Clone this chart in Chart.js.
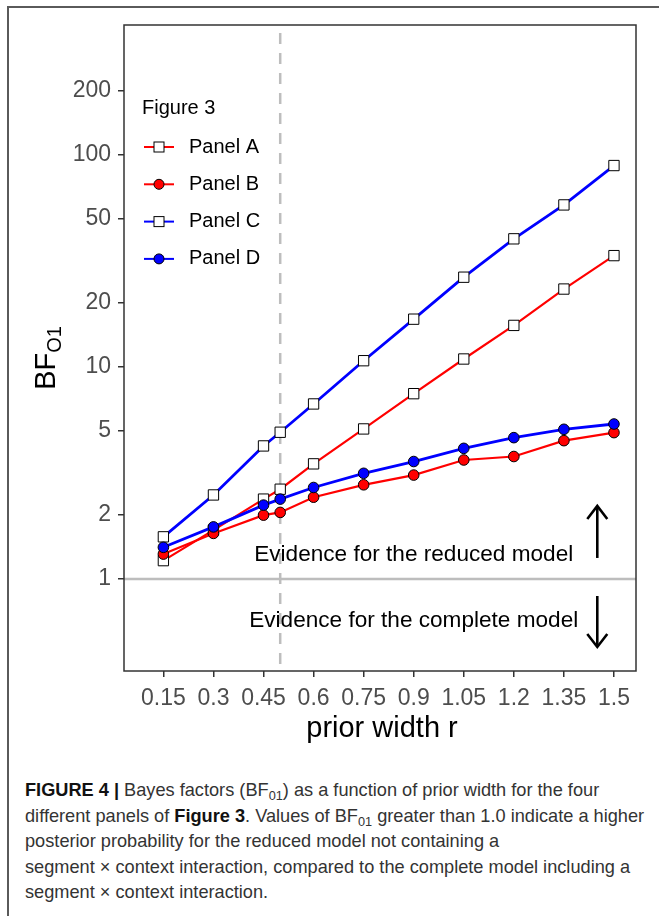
<!DOCTYPE html>
<html>
<head>
<meta charset="utf-8">
<script src="https://cdn.jsdelivr.net/npm/chart.js@4.4.1/dist/chart.umd.min.js"></script>
<style>
  body { margin: 0; background: #fff; }
  #wrap { position: relative; width: 659px; height: 916px; overflow: hidden; }
  #frame { position: absolute; left: 7px; top: 6px; width: 700px; height: 1000px;
           border-left: 2px solid #5a5a5a; border-top: 2px solid #5a5a5a; }
  #chart { position: absolute; left: 0; top: 0; }
  #caption { position: absolute; left: 25px; top: 778px; color: #333;
             font-family: "Liberation Sans", Arial, sans-serif;
             font-size: 18.2px; line-height: 25.5px; white-space: nowrap; }
  #caption b { color: #111; }
  #caption sub { font-size: 0.7em; vertical-align: -0.3em; line-height: 0; }
</style>
</head>
<body>
<div id="wrap">
  <div id="frame"></div>
  <canvas id="chart" width="659" height="760"></canvas>
  <div id="caption"><b>FIGURE 4 |</b> Bayes factors (BF<sub>01</sub>) as a function of prior width for the four<br>different panels of <b>Figure 3</b>. Values of BF<sub>01</sub> greater than 1.0 indicate a higher<br>posterior probability for the reduced model not containing a<br>segment × context interaction, compared to the complete model including a<br>segment × context interaction.</div>
</div>
<script>
  // Data
  const priorWidths = [0.15, 0.3, 0.45, 0.5, 0.6, 0.75, 0.9, 1.05, 1.2, 1.35, 1.5];
  const panelA = [1.22, 1.70, 2.38, 2.65, 3.49, 5.10, 7.48, 10.9, 15.7, 23.3, 33.5];
  const panelB = [1.31, 1.64, 2.00, 2.06, 2.43, 2.78, 3.09, 3.64, 3.78, 4.49, 4.90];
  const panelC = [1.58, 2.49, 4.24, 4.92, 6.69, 10.7, 16.8, 26.5, 40.2, 58.1, 89.1];
  const panelD = [1.41, 1.76, 2.23, 2.38, 2.70, 3.15, 3.58, 4.13, 4.64, 5.08, 5.38];

  const xTicks = [0.15, 0.3, 0.45, 0.6, 0.75, 0.9, 1.05, 1.2, 1.35, 1.5];
  const xTickLabels = ['0.15', '0.3', '0.45', '0.6', '0.75', '0.9', '1.05', '1.2', '1.35', '1.5'];
  const yTicks = [1, 2, 5, 10, 20, 50, 100, 200];

  const xMin = 0.032, xMax = 1.566;
  const yMin = 0.368, yMax = 410;
  const markedWidth = 0.5;   // dashed line
  const evidenceLine = 1;    // BF = 1

  const RED = '#ff0000', BLUE = '#0000ff';
  const FONT = '"Liberation Sans", Arial, sans-serif';

  function toPoints(ys) {
    return priorWidths.map((x, i) => ({ x: x, y: ys[i] }));
  }

  const series = [
    { label: 'Panel A', data: panelA, color: RED, style: 'rect', width: 2.2 },
    { label: 'Panel B', data: panelB, color: RED, style: 'circle', width: 2.2 },
    { label: 'Panel C', data: panelC, color: BLUE, style: 'rect', width: 2.8 },
    { label: 'Panel D', data: panelD, color: BLUE, style: 'circle', width: 2.8 }
  ];

  const datasets = series.map((s, i) => ({
    label: s.label,
    data: toPoints(s.data),
    borderColor: s.color,
    borderWidth: s.width,
    pointStyle: s.style,
    pointRadius: s.style === 'rect' ? 7.3 : 5.3,
    pointBackgroundColor: s.style === 'rect' ? '#fff' : s.color,
    pointBorderColor: '#000',
    pointBorderWidth: 1,
    order: series.length - i,
    tension: 0
  }));

  // extra drawing: reference lines, frame, legend, notes, axis titles
  const decor = {
    id: 'decor',
    beforeDatasetsDraw(chart) {
      const ctx = chart.ctx, a = chart.chartArea;
      const xs = chart.scales.x, ys = chart.scales.y;
      ctx.save();
      ctx.strokeStyle = '#bdbdbd';
      ctx.lineWidth = 2.5;
      const y1 = ys.getPixelForValue(evidenceLine);
      ctx.beginPath(); ctx.moveTo(a.left, y1); ctx.lineTo(a.right, y1); ctx.stroke();
      ctx.setLineDash([11, 9]);
      const xm = xs.getPixelForValue(markedWidth);
      ctx.beginPath(); ctx.moveTo(xm, a.top + 8); ctx.lineTo(xm, a.bottom); ctx.stroke();
      ctx.restore();
    },
    afterDraw(chart) {
      const ctx = chart.ctx, a = chart.chartArea;
      const xs = chart.scales.x, ys = chart.scales.y;
      ctx.save();

      // panel border
      ctx.strokeStyle = '#333';
      ctx.lineWidth = 1.5;
      ctx.strokeRect(a.left, a.top, a.right - a.left, a.bottom - a.top);

      // legend
      ctx.fillStyle = '#000';
      ctx.font = '20px ' + FONT;
      ctx.textBaseline = 'middle';
      ctx.fillText('Figure 3', 142, 108);
      series.forEach((s, i) => {
        const y = 147 + i * 37.3;
        ctx.strokeStyle = s.color;
        ctx.lineWidth = 2;
        ctx.beginPath(); ctx.moveTo(144, y); ctx.lineTo(174, y); ctx.stroke();
        ctx.lineWidth = 1;
        ctx.strokeStyle = '#000';
        if (s.style === 'rect') {
          ctx.fillStyle = '#fff';
          ctx.fillRect(154, y - 5, 10, 10);
          ctx.strokeRect(154, y - 5, 10, 10);
        } else {
          ctx.fillStyle = s.color;
          ctx.beginPath(); ctx.arc(159, y, 5, 0, Math.PI * 2); ctx.fill(); ctx.stroke();
        }
        ctx.fillStyle = '#000';
        ctx.fillText(s.label, 189, y);
      });

      // evidence notes
      ctx.font = '22.6px ' + FONT;
      ctx.textAlign = 'center';
      ctx.textBaseline = 'alphabetic';
      ctx.fillText('Evidence for the reduced model', xs.getPixelForValue(0.9), ys.getPixelForValue(1.216));
      ctx.fillText('Evidence for the complete model', xs.getPixelForValue(0.9), ys.getPixelForValue(0.592));

      // arrows
      const ax = xs.getPixelForValue(1.45);
      function arrow(fromV, toV) {
        const y0 = ys.getPixelForValue(fromV), y1 = ys.getPixelForValue(toV);
        const dir = y1 < y0 ? 1 : -1;
        ctx.strokeStyle = '#000';
        ctx.lineWidth = 2.6;
        ctx.beginPath(); ctx.moveTo(ax, y0); ctx.lineTo(ax, y1); ctx.stroke();
        ctx.beginPath();
        ctx.moveTo(ax - 10, y1 + dir * 13); ctx.lineTo(ax, y1); ctx.lineTo(ax + 10, y1 + dir * 13);
        ctx.stroke();
      }
      arrow(1.256, 2.21);
      arrow(0.831, 0.478);

      // x axis title
      ctx.fillStyle = '#000';
      ctx.font = '29px ' + FONT;
      ctx.fillText('prior width r', (a.left + a.right) / 2 + 2, 737);

      // y axis title with subscript
      ctx.translate(55, 358);
      ctx.rotate(-Math.PI / 2);
      ctx.textAlign = 'left';
      ctx.font = '29px ' + FONT;
      const wMain = ctx.measureText('BF').width;
      ctx.font = '20px ' + FONT;
      const wSub = ctx.measureText('O1').width;
      const start = -(wMain + wSub) / 2;
      ctx.font = '29px ' + FONT;
      ctx.fillText('BF', start, 0);
      ctx.font = '20px ' + FONT;
      ctx.fillText('O1', start + wMain, 6);
      ctx.restore();
    }
  };

  new Chart(document.getElementById('chart'), {
    type: 'line',
    data: { datasets: datasets },
    options: {
      responsive: false,
      animation: false,
      devicePixelRatio: 1,
      layout: { padding: { top: 25, right: 23, left: 0, bottom: 0 } },
      plugins: { legend: { display: false }, tooltip: { enabled: false } },
      scales: {
        x: {
          type: 'linear',
          min: xMin,
          max: xMax,
          afterBuildTicks: s => { s.ticks = xTicks.map(v => ({ value: v })); },
          afterFit: s => { s.height = 89; },
          border: { display: false },
          grid: { drawOnChartArea: false, drawTicks: true, tickLength: 6, color: '#333', lineWidth: 1.5 },
          ticks: {
            autoSkip: false, maxRotation: 0, padding: 8,
            color: '#4d4d4d', font: { size: 23, family: FONT },
            callback: (v, i) => xTickLabels[i]
          }
        },
        y: {
          type: 'logarithmic',
          min: yMin,
          max: yMax,
          afterBuildTicks: s => { s.ticks = yTicks.map(v => ({ value: v })); },
          afterFit: s => { s.width = 124; },
          border: { display: false },
          grid: { drawOnChartArea: false, drawTicks: true, tickLength: 6, color: '#333', lineWidth: 1.5 },
          ticks: {
            autoSkip: false, padding: 7,
            color: '#4d4d4d', font: { size: 23, family: FONT },
            callback: v => String(v)
          }
        }
      }
    },
    plugins: [decor]
  });
</script>
</body>
</html>
